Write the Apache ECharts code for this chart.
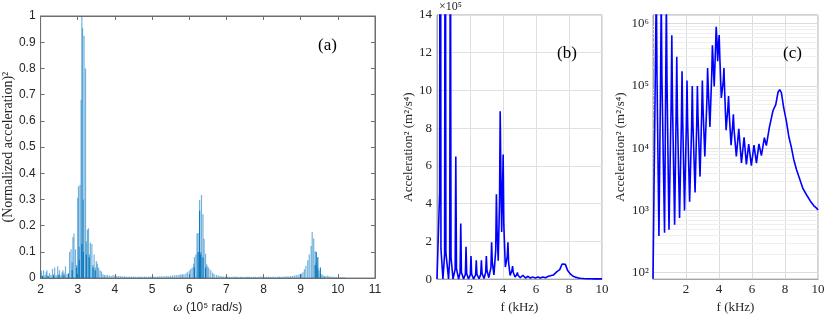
<!DOCTYPE html>
<html><head><meta charset="utf-8">
<script src="https://cdn.jsdelivr.net/npm/echarts@6/dist/echarts.min.js"></script>
<style>html,body{margin:0;padding:0;background:#fff}#c{width:830px;height:319px}</style>
</head><body><div id="c"></div>
<script>
// ---------- Panel (a): normalized spectrum (stems) ----------
const omegaA = [2.00,2.02,2.05,2.08,2.12,2.15,2.17,2.20,2.24,2.28,2.32,2.35,2.38,2.42,2.46,2.49,2.51,2.55,2.58,2.60,2.63,2.67,2.71,2.75,2.78,2.82,2.85,2.87,2.90,2.94,2.97,3.00,3.02,3.04,3.06,3.09,3.11,3.13,3.15,3.17,3.21,3.23,3.26,3.29,3.31,3.34,3.38,3.41,3.44,3.47,3.50,3.53,3.56,3.60,3.64,3.68,3.72,3.76,3.80,3.85,3.90,3.95,4.00,4.05,4.10,4.15,4.20,4.25,4.30,4.35,4.40,4.45,4.50,4.55,4.60,4.65,4.70,4.75,4.80,4.85,4.90,4.95,5.00,5.05,5.10,5.15,5.20,5.25,5.30,5.35,5.40,5.45,5.50,5.55,5.60,5.65,5.70,5.75,5.78,5.82,5.86,5.91,5.95,6.00,6.04,6.08,6.12,6.14,6.18,6.21,6.24,6.28,6.31,6.33,6.37,6.40,6.44,6.47,6.50,6.53,6.58,6.63,6.67,6.73,6.78,6.83,6.88,6.93,6.98,7.03,7.08,7.13,7.18,7.23,7.28,7.33,7.38,7.43,7.48,7.53,7.58,7.63,7.68,7.73,7.78,7.83,7.88,7.93,7.98,8.03,8.08,8.13,8.18,8.23,8.28,8.33,8.38,8.43,8.48,8.53,8.58,8.63,8.68,8.73,8.78,8.83,8.88,8.93,8.98,9.02,9.06,9.10,9.14,9.19,9.23,9.28,9.31,9.35,9.39,9.42,9.46,9.49,9.53,9.57,9.60,9.64,9.68,9.73,9.77,9.82,9.87,9.92,9.97,10.02,10.07,10.12,10.17,10.22,10.27,10.32,10.37];
const normA = [0.018,0.028,0.010,0.030,0.012,0.022,0.030,0.010,0.020,0.012,0.035,0.015,0.040,0.012,0.045,0.015,0.030,0.012,0.022,0.030,0.020,0.045,0.015,0.020,0.100,0.110,0.060,0.156,0.170,0.110,0.050,0.307,0.350,0.120,0.355,0.680,1.000,0.953,0.300,0.925,0.800,0.140,0.185,0.190,0.090,0.135,0.130,0.050,0.090,0.040,0.065,0.055,0.040,0.030,0.025,0.015,0.012,0.010,0.012,0.010,0.008,0.012,0.010,0.008,0.008,0.007,0.006,0.007,0.006,0.005,0.006,0.005,0.006,0.005,0.005,0.006,0.005,0.005,0.006,0.005,0.005,0.006,0.005,0.006,0.005,0.006,0.006,0.007,0.006,0.007,0.008,0.007,0.009,0.010,0.011,0.012,0.012,0.014,0.013,0.015,0.015,0.018,0.022,0.028,0.035,0.040,0.055,0.080,0.090,0.170,0.172,0.298,0.100,0.317,0.244,0.150,0.093,0.053,0.045,0.038,0.030,0.020,0.016,0.012,0.010,0.008,0.007,0.006,0.006,0.005,0.005,0.004,0.005,0.006,0.005,0.004,0.005,0.005,0.004,0.005,0.006,0.005,0.004,0.005,0.005,0.004,0.005,0.006,0.005,0.004,0.005,0.005,0.004,0.005,0.005,0.004,0.005,0.006,0.005,0.005,0.006,0.007,0.006,0.008,0.008,0.010,0.012,0.013,0.015,0.017,0.022,0.034,0.047,0.068,0.090,0.122,0.176,0.151,0.103,0.059,0.040,0.029,0.018,0.015,0.010,0.008,0.007,0.010,0.006,0.005,0.005,0.004,0.004,0.004,0.003,0.003,0.003];
const omegaDark = [2.05,2.20,2.35,2.49,2.63,2.75,2.85,2.97,3.04,3.11,3.15,3.23,3.31,3.41,3.47,6.14,6.24,6.28,6.31,6.37,6.44,9.39,9.42,9.46,9.53];
const normDark  = [0.008,0.008,0.010,0.010,0.012,0.015,0.030,0.040,0.070,0.130,0.100,0.090,0.080,0.040,0.030,0.040,0.100,0.257,0.090,0.080,0.040,0.050,0.100,0.080,0.040];

// ---------- Panels (b) and (c): acceleration^2 spectrum ----------
const freqKHz = [0.00,0.16,0.20,0.24,0.36,0.46,0.50,0.54,0.70,0.77,0.81,0.85,0.97,1.10,1.14,1.18,1.31,1.40,1.44,1.48,1.61,1.72,1.76,1.80,1.91,2.02,2.06,2.10,2.22,2.34,2.38,2.42,2.55,2.65,2.69,2.73,2.85,2.95,2.99,3.03,3.14,3.27,3.31,3.35,3.45,3.56,3.60,3.64,3.71,3.79,3.83,3.87,3.92,3.97,4.01,4.05,4.14,4.26,4.30,4.34,4.43,4.54,4.58,4.62,4.73,4.83,4.87,4.91,5.05,5.20,5.36,5.52,5.66,5.80,5.96,6.12,6.27,6.42,6.57,6.75,6.87,7.05,7.15,7.27,7.44,7.58,7.68,7.78,7.92,8.08,8.24,8.38,8.53,8.69,8.89,9.09,9.33,9.54,9.74,9.94,10.00];
const accel2 = [80,4.6e5,4.0e6,1.6e5,390,1.3e5,3.0e6,1.4e5,440,1.1e5,2.2e6,1.15e5,490,5.2e4,6.5e5,5.6e4,590,3.4e4,2.95e5,3.6e4,760,2.6e4,1.72e5,2.9e4,1000,2.3e4,1.22e5,2.6e4,1380,2.2e4,1.0e5,2.5e4,1950,2.5e4,1.0e5,3.1e4,3500,3.5e4,1.22e5,4.6e4,7400,6.2e4,1.95e5,9.1e4,2.2e4,1.55e5,4.5e5,2.6e5,9.8e4,4.1e5,8.9e5,5.7e5,2.5e5,4.7e5,6.6e5,2.9e5,6.4e4,1.2e5,1.95e5,8.7e4,1.95e4,4.5e4,6.9e4,3.6e4,1.12e4,2.35e4,3.5e4,2.05e4,7400,2.05e4,5800,1.5e4,5500,1.17e4,5250,1.12e4,5750,1.17e4,7600,1.48e4,1.1e4,2.14e4,2.0e4,4.0e4,5.0e4,8.0e4,8.7e4,7.8e4,4.5e4,2.75e4,1.5e4,1.05e4,6600,4600,3200,2240,1740,1410,1200,1070,1020];

const decades = [100,1000,10000,100000,1000000];
const minorMult = [2,3,4,5,6,7,8,9];

const sansFont = '"Liberation Sans", Arial, sans-serif';
const serifFont = '"Liberation Serif", "Times New Roman", serif';
const supDigits = {'0':'⁰','1':'¹','2':'²','3':'³','4':'⁴','5':'⁵','6':'⁶','7':'⁷','8':'⁸','9':'⁹'};
const axisGreyA = '#6e6e6e';

const minorLines = [];
decades.forEach(d => minorMult.forEach(m => { if (d*m < 1.38e6) minorLines.push({yAxis: d*m}); }));

const chart = echarts.init(document.getElementById('c'), null, {renderer:'canvas'});
const gridA = {left:40, top:16, width:335, height:265, show:true, borderColor:axisGreyA, borderWidth:1};
const gridB = {left:437, top:15, width:165, height:271, show:true, borderColor:'#a6a6a6', borderWidth:1};
const gridC = {left:653, top:15, width:165, height:271, show:true, borderColor:'#a6a6a6', borderWidth:1};

const option = {
  animation:false,
  grid:[gridA, gridB, gridC],
  xAxis:[
    {gridIndex:0, type:'value', min:2, max:11, interval:1,
     axisLine:{show:true, onZero:false, lineStyle:{color:axisGreyA}},
     axisTick:{show:true, inside:true, length:4, lineStyle:{color:axisGreyA}},
     axisLabel:{margin:6, color:'#262626', fontFamily:sansFont, fontSize:12},
     splitLine:{show:false},
     name:'{w|ω} (10⁵ rad/s)', nameLocation:'middle', nameGap:21,
     nameTextStyle:{color:'#262626', fontFamily:sansFont, fontSize:12,
       rich:{w:{fontFamily:serifFont, fontStyle:'italic', fontSize:13, color:'#262626'}}}},
    {gridIndex:0, type:'value', min:2, max:11, interval:1, position:'top',
     axisLine:{show:true, onZero:false, lineStyle:{color:axisGreyA}},
     axisTick:{show:true, inside:true, length:4, lineStyle:{color:axisGreyA}},
     axisLabel:{show:false}, splitLine:{show:false}},
    {gridIndex:1, type:'value', min:0, max:10, interval:2,
     axisLine:{show:true, onZero:false, lineStyle:{color:'#a6a6a6'}},
     axisTick:{show:false},
     axisLabel:{margin:4, color:'#262626', fontFamily:serifFont, fontSize:13, showMinLabel:false},
     splitLine:{show:true, lineStyle:{color:'#e0e0e0', width:1}},
     name:'f (kHz)', nameLocation:'middle', nameGap:20,
     nameTextStyle:{color:'#262626', fontFamily:serifFont, fontSize:13}},
    {gridIndex:2, type:'value', min:0, max:10, interval:2,
     axisLine:{show:true, onZero:false, lineStyle:{color:'#a6a6a6'}},
     axisTick:{show:false},
     axisLabel:{margin:4, color:'#262626', fontFamily:serifFont, fontSize:13, showMinLabel:false},
     splitLine:{show:true, lineStyle:{color:'#dcdcdc', width:1}},
     name:'f (kHz)', nameLocation:'middle', nameGap:20,
     nameTextStyle:{color:'#262626', fontFamily:serifFont, fontSize:13}}
  ],
  yAxis:[
    {gridIndex:0, type:'value', min:0, max:1, interval:0.1,
     axisLine:{show:true, onZero:false, lineStyle:{color:axisGreyA}},
     axisTick:{show:true, inside:true, length:4, lineStyle:{color:axisGreyA}},
     axisLabel:{margin:5, color:'#262626', fontFamily:sansFont, fontSize:12,
       formatter: v => (Math.round(v*10)/10).toString()},
     splitLine:{show:false},
     name:'(Normalized acceleration)²', nameLocation:'middle', nameGap:22,
     nameTextStyle:{color:'#262626', fontFamily:serifFont, fontSize:14}},
    {gridIndex:0, type:'value', min:0, max:1, interval:0.1, position:'right',
     axisLine:{show:true, onZero:false, lineStyle:{color:axisGreyA}},
     axisTick:{show:true, inside:true, length:4, lineStyle:{color:axisGreyA}},
     axisLabel:{show:false}, splitLine:{show:false}},
    {gridIndex:1, type:'value', min:0, max:1.4e6, interval:2e5,
     axisLine:{show:true, onZero:false, lineStyle:{color:'#a6a6a6'}},
     axisTick:{show:false},
     axisLabel:{margin:5, color:'#262626', fontFamily:serifFont, fontSize:13,
       formatter: v => String(Math.round(v/1e5))},
     splitLine:{show:true, lineStyle:{color:'#e0e0e0', width:1}},
     name:'Acceleration² (m²/s⁴)', nameLocation:'middle', nameGap:20,
     nameTextStyle:{color:'#262626', fontFamily:serifFont, fontSize:13}},
    {gridIndex:2, type:'log', logBase:10, min:79, max:1.38e6,
     axisLine:{show:true, onZero:false, lineStyle:{color:'#a6a6a6'}},
     axisTick:{show:false},
     axisLabel:{margin:4, color:'#262626', fontFamily:serifFont, fontSize:13,
       showMinLabel:false, showMaxLabel:false,
       formatter: v => { const e = Math.round(Math.log10(v)); if (Math.abs(Math.log10(v)-e) > 0.01) return '';
         return '10' + String(e).split('').map(ch => supDigits[ch]).join(''); }},
     splitLine:{show:true, lineStyle:{color:'#dcdcdc', width:1}},
     name:'Acceleration² (m²/s⁴)', nameLocation:'middle', nameGap:22,
     nameTextStyle:{color:'#262626', fontFamily:serifFont, fontSize:13}}
  ],
  series:[
    {type:'bar', xAxisIndex:0, yAxisIndex:0, barWidth:1.2, barGap:'-100%',
     data: omegaA.map((x,i)=>[x, normA[i]]),
     itemStyle:{color:'#0072BD', opacity:0.55}, silent:true},
    {type:'bar', xAxisIndex:0, yAxisIndex:0, barWidth:1.2, barGap:'-100%',
     data: omegaDark.map((x,i)=>[x, normDark[i]]),
     itemStyle:{color:'#0072BD', opacity:0.9}, silent:true},
    {type:'line', xAxisIndex:2, yAxisIndex:2, data: freqKHz.map((f,i)=>[f, accel2[i]]),
     showSymbol:false, clip:true, lineStyle:{color:'#0000ff', width:1.6}, z:3, silent:true},
    {type:'line', xAxisIndex:3, yAxisIndex:3, data: [], z:1, silent:true,
     markLine:{silent:true, z:1, symbol:'none', animation:false, label:{show:false},
       lineStyle:{color:'#efefef', width:1, type:'solid'}, data: minorLines}},
    {type:'line', xAxisIndex:3, yAxisIndex:3, data: freqKHz.map((f,i)=>[f, accel2[i]]),
     showSymbol:false, clip:true, lineStyle:{color:'#0000ff', width:1.6}, z:10, silent:true}
  ],
  graphic:[
    {type:'text', z:100, left:318, top:37, style:{text:'(a)', font:'17px ' + serifFont, fill:'#000'}},
    {type:'text', z:100, left:557, top:45, style:{text:'(b)', font:'17px ' + serifFont, fill:'#000'}},
    {type:'text', z:100, left:783, top:45, style:{text:'(c)', font:'17px ' + serifFont, fill:'#000'}},
    {type:'text', z:100, left:439, top:1, style:{text:'×10⁵', font:'12px ' + serifFont, fill:'#262626'}}
  ]
};
chart.setOption(option);
</script>
</body></html>
